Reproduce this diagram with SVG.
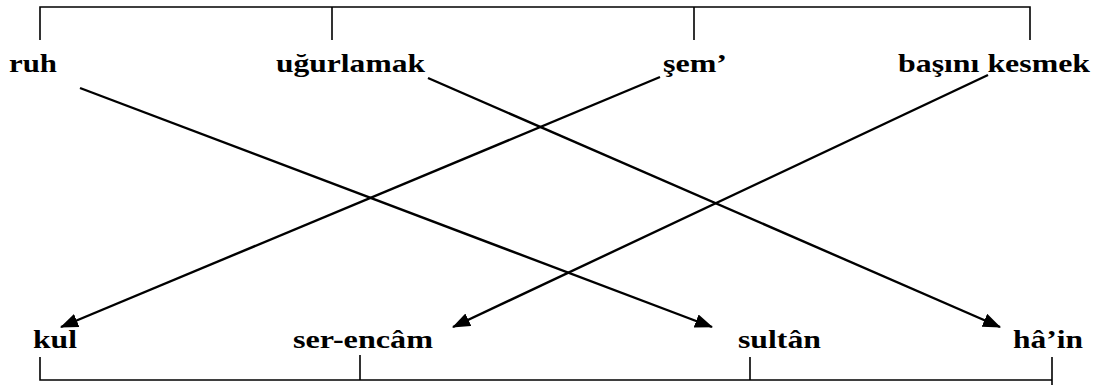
<svg xmlns="http://www.w3.org/2000/svg" width="1104" height="385" viewBox="0 0 1104 385">
<style>
.br{stroke:#000;stroke-width:1.6;fill:none}
.ar{stroke:#000;stroke-width:2.4;fill:none;marker-end:url(#ah)}
</style>
<defs>
<marker id="ah" markerUnits="userSpaceOnUse" markerWidth="20" markerHeight="16" refX="17" refY="7" orient="auto">
<path d="M0,0 L18,7 L0,14 z" fill="#000"/>
</marker>
</defs>
<rect width="1104" height="385" fill="#fff"/>
<g id="top-bracket">
<path class="br" d="M40,40 V7 H1030 V40 M332,7 V40 M694,7 V40"/>
</g>
<g id="bottom-bracket">
<path class="br" d="M40,357 V380 H1052 V385 M1052,357 V380 M360,355 V380 M750,357 V380"/>
</g>
<g id="labels" font-family="'Liberation Serif', 'DejaVu Serif', serif" font-weight="bold" font-size="26" fill="#000">
<g id="n-ruh"><text x="9" y="71.5" textLength="48" lengthAdjust="spacingAndGlyphs">ruh</text></g>
<g id="n-ugurlamak"><text x="276" y="71.5" textLength="149" lengthAdjust="spacingAndGlyphs">uğurlamak</text></g>
<g id="n-sem"><text x="663" y="71.5" textLength="64" lengthAdjust="spacingAndGlyphs">şem’</text></g>
<g id="n-basini"><text x="898" y="71.5" textLength="192" lengthAdjust="spacingAndGlyphs">başını kesmek</text></g>
<g id="n-kul"><text x="33" y="348" textLength="44" lengthAdjust="spacingAndGlyphs">kul</text></g>
<g id="n-serencam"><text x="293" y="348" textLength="140" lengthAdjust="spacingAndGlyphs">ser-encâm</text></g>
<g id="n-sultan"><text x="738" y="348" textLength="83" lengthAdjust="spacingAndGlyphs">sultân</text></g>
<g id="n-hain"><text x="1013" y="348" textLength="70" lengthAdjust="spacingAndGlyphs">hâ’in</text></g>
</g>
<g id="connectors">
<line class="ar" x1="80" y1="88" x2="712" y2="327"/>
<line class="ar" x1="428" y1="78" x2="1000" y2="327"/>
<line class="ar" x1="660" y1="77" x2="61" y2="327"/>
<line class="ar" x1="988" y1="75" x2="453" y2="327"/>
</g>
</svg>
